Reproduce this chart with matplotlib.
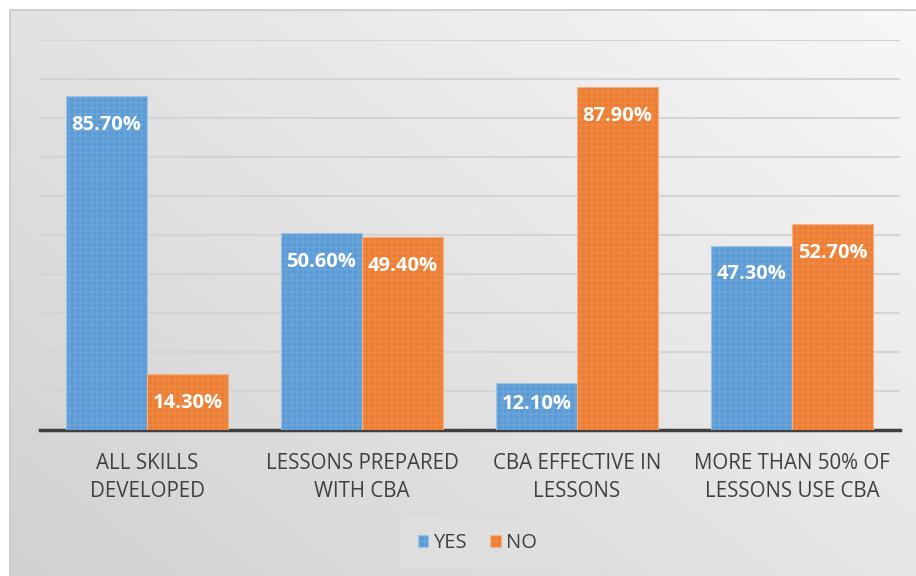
import matplotlib

matplotlib.use('agg')
import matplotlib.pyplot as plt
import numpy as np

categories = ['ALL SKILLS\nDEVELOPED', 'LESSONS PREPARED\nWITH CBA',
              'CBA EFFECTIVE IN\nLESSONS', 'MORE THAN 50% OF\nLESSONS USE CBA']
yes = [85.7, 50.6, 12.1, 47.3]
no = [14.3, 49.4, 87.9, 52.7]

plt.rcParams['font.family'] = ['Open Sans', 'DejaVu Sans']

fig = plt.figure(figsize=(9.16, 5.76), dpi=100)

# gradient background of the chart frame
bg = fig.add_axes([0, 0, 1, 1], zorder=-10)
gx, gy = np.meshgrid(np.linspace(0, 1, 200), np.linspace(0, 1, 200))
grad = 0.82 + 0.15 * (0.55 * gx + 0.45 * gy)
bg.imshow(np.dstack([grad, grad, grad]), extent=[10, 916, 0, 566], origin='lower',
          aspect='auto')
bg.plot([10, 10, 916], [0, 566, 566], color='#c8c8c8', lw=1.2)
bg.set_xlim(0, 916)
bg.set_ylim(0, 576)
bg.axis('off')

ax = fig.add_axes([39.5 / 916, 1 - 430 / 576, 860 / 916, 390 / 576])
ax.patch.set_alpha(0)

x = np.arange(len(categories))
w = 0.377
b1 = ax.bar(x - w / 2, yes, w, color='#5b9bd5', edgecolor='#9cc3e6', lw=0.8,
            hatch='+++', label='YES', zorder=3)
b2 = ax.bar(x + w / 2, no, w, color='#ed7d31', edgecolor='#f4b183', lw=0.8,
            hatch='+++', label='NO', zorder=3)
for bars in (b1, b2):
    for r in bars:
        r._hatch_color = (1, 1, 1, 0.1)

# labels sit just inside the bar end, but never below a minimum height
for xs, vals in ((x - w / 2, yes), (x + w / 2, no)):
    for xi, v in zip(xs, vals):
        ax.text(xi, max(v - 7.4, 6.7), '%.2f%%' % v, ha='center', va='center',
                color='white', fontsize=14.5, fontweight='bold', zorder=5)

ax.set_xlim(-0.5, 3.5)
ax.set_ylim(0, 100)
ax.set_yticks(np.arange(10, 101, 10))
ax.yaxis.grid(True, color='#d4d4d4', lw=1.5, zorder=0)
ax.tick_params(axis='y', left=False, labelleft=False)
ax.tick_params(axis='x', bottom=False, pad=13)
ax.set_xticks(x)
ax.set_xticklabels(categories, fontsize=14.8, color='#404040', linespacing=1.45)
for s in ['top', 'right', 'left']:
    ax.spines[s].set_visible(False)
ax.spines['bottom'].set_color('#404040')
ax.spines['bottom'].set_linewidth(2.5)

leg = ax.legend(loc='center', bbox_to_anchor=(477 / 916, 33 / 576),
                bbox_transform=fig.transFigure, ncol=2, frameon=True,
                fontsize=14.5, handlelength=0.5, handleheight=0.5,
                handletextpad=0.25, columnspacing=1.2, borderpad=0.5)
leg.get_frame().set_facecolor('#e0e0e0')
leg.get_frame().set_edgecolor('none')
leg.get_frame().set_boxstyle('square')
for t in leg.get_texts():
    t.set_color('#404040')

plt.savefig('out.png')
